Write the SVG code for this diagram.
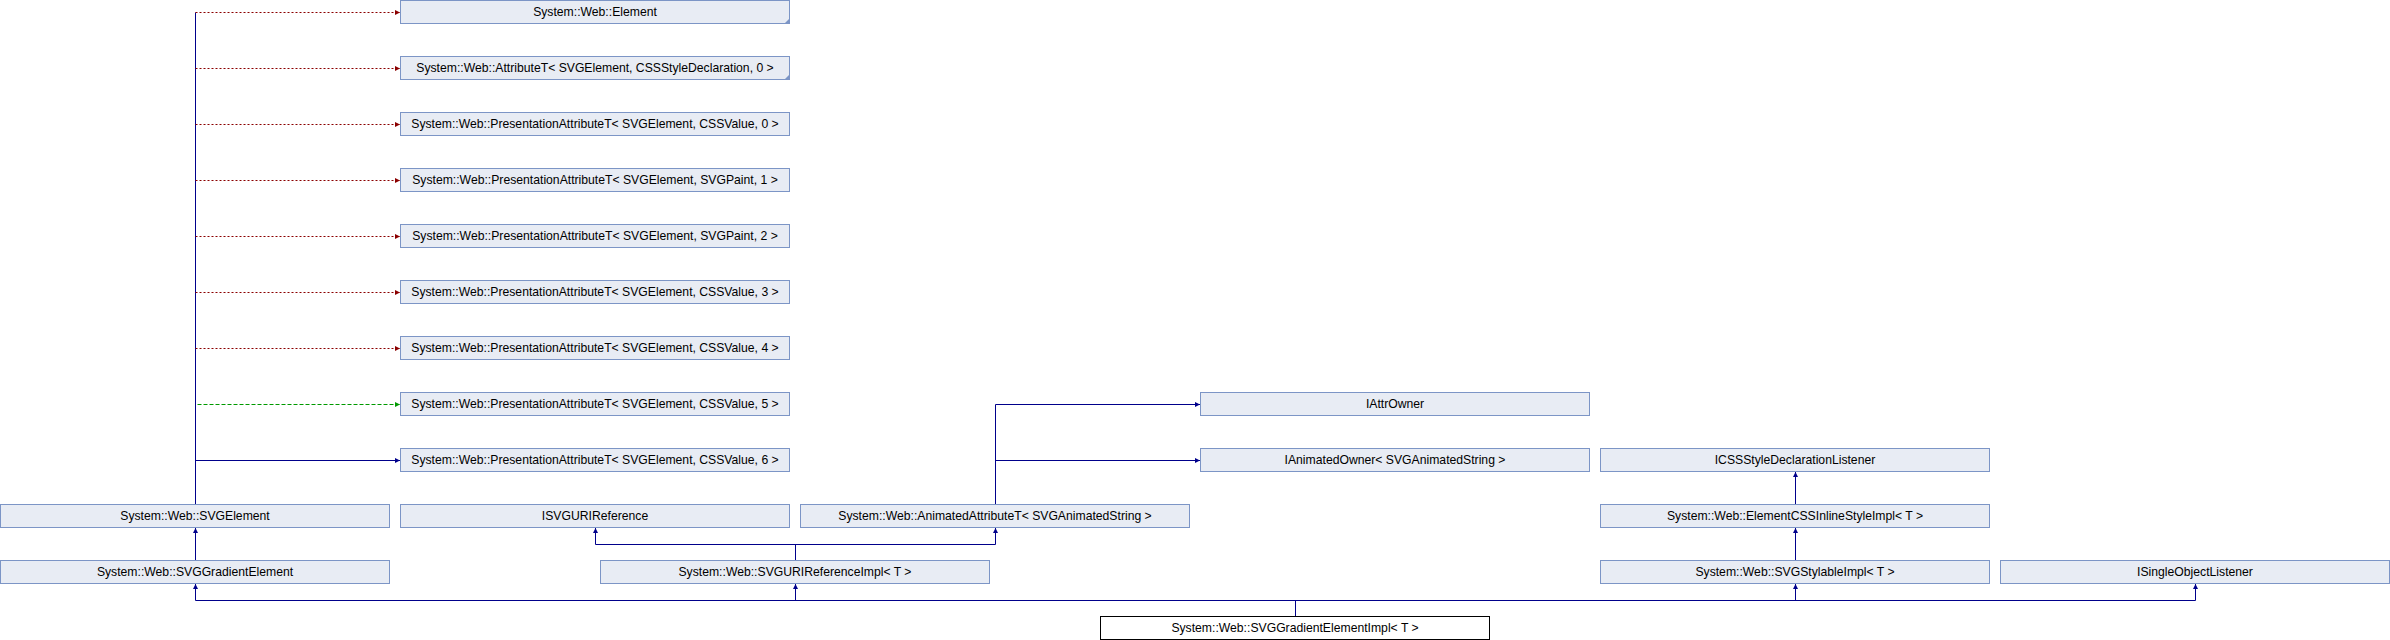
<svg xmlns="http://www.w3.org/2000/svg" width="2390" height="640" viewBox="0 0 2390 640">
<style>
.n rect{fill:#e8ecf4;stroke:#7c95c6;stroke-width:1}
.n polygon{fill:#7c95c6;stroke:none}
.root rect{fill:#ffffff;stroke:#000000;stroke-width:1}
text{font-family:"Liberation Sans",Arial,Helvetica,sans-serif;font-size:12.2px;fill:#000000;text-anchor:middle}
.e{fill:none;stroke-width:1}
.pub{stroke:#00008b}
.pri{stroke:#8b0000;stroke-dasharray:2,2}
.pro{stroke:#009900;stroke-dasharray:4,2}
</style>
<defs>
<marker id="ab" markerUnits="userSpaceOnUse" markerWidth="6" markerHeight="6" refX="5" refY="2.5" orient="auto"><path d="M0,0 L5,2.5 L0,5 z" fill="#00008b"/></marker>
<marker id="ar" markerUnits="userSpaceOnUse" markerWidth="6" markerHeight="6" refX="5" refY="2.5" orient="auto"><path d="M0,0 L5,2.5 L0,5 z" fill="#8b0000"/></marker>
<marker id="ag" markerUnits="userSpaceOnUse" markerWidth="6" markerHeight="6" refX="5" refY="2.5" orient="auto"><path d="M0,0 L5,2.5 L0,5 z" fill="#009900"/></marker>
</defs>
<g id="edges">
<path class="e pub" d="M195.5,504.5 V12.5"/>
<path class="e pri" d="M195.5,12.5 H400" marker-end="url(#ar)"/>
<path class="e pri" d="M195.5,68.5 H400" marker-end="url(#ar)"/>
<path class="e pri" d="M195.5,124.5 H400" marker-end="url(#ar)"/>
<path class="e pri" d="M195.5,180.5 H400" marker-end="url(#ar)"/>
<path class="e pri" d="M195.5,236.5 H400" marker-end="url(#ar)"/>
<path class="e pri" d="M195.5,292.5 H400" marker-end="url(#ar)"/>
<path class="e pri" d="M195.5,348.5 H400" marker-end="url(#ar)"/>
<path class="e pro" d="M197.5,404.5 H400" marker-end="url(#ag)"/>
<path class="e pub" d="M195.5,460.5 H400" marker-end="url(#ab)"/>
<path class="e pub" d="M195.5,560.5 V528" marker-end="url(#ab)"/>
<path class="e pub" d="M1295.5,616.5 V600.5 M195.5,600.5 H2195.5"/>
<path class="e pub" d="M195.5,600.5 V584" marker-end="url(#ab)"/>
<path class="e pub" d="M795.5,600.5 V584" marker-end="url(#ab)"/>
<path class="e pub" d="M1795.5,600.5 V584" marker-end="url(#ab)"/>
<path class="e pub" d="M2195.5,600.5 V584" marker-end="url(#ab)"/>
<path class="e pub" d="M795.5,560.5 V544.5 M595.5,544.5 H995.5"/>
<path class="e pub" d="M595.5,544.5 V528" marker-end="url(#ab)"/>
<path class="e pub" d="M995.5,544.5 V528" marker-end="url(#ab)"/>
<path class="e pub" d="M995.5,504.5 V404.5 H1200" marker-end="url(#ab)"/>
<path class="e pub" d="M995.5,460.5 H1200" marker-end="url(#ab)"/>
<path class="e pub" d="M1795.5,560.5 V528" marker-end="url(#ab)"/>
<path class="e pub" d="M1795.5,504.5 V472" marker-end="url(#ab)"/>
</g>
<g id="n_element" class="n"><rect x="400.5" y="0.5" width="389" height="23"/><polygon points="789.5,18.5 789.5,23.5 784.5,23.5"/><text x="595" y="16">System::Web::Element</text></g>
<g id="n_attributeT" class="n"><rect x="400.5" y="56.5" width="389" height="23"/><polygon points="789.5,74.5 789.5,79.5 784.5,79.5"/><text x="595" y="72">System::Web::AttributeT&lt; SVGElement, CSSStyleDeclaration, 0 &gt;</text></g>
<g id="n_pres0" class="n"><rect x="400.5" y="112.5" width="389" height="23"/><text x="595" y="128">System::Web::PresentationAttributeT&lt; SVGElement, CSSValue, 0 &gt;</text></g>
<g id="n_pres1" class="n"><rect x="400.5" y="168.5" width="389" height="23"/><text x="595" y="184">System::Web::PresentationAttributeT&lt; SVGElement, SVGPaint, 1 &gt;</text></g>
<g id="n_pres2" class="n"><rect x="400.5" y="224.5" width="389" height="23"/><text x="595" y="240">System::Web::PresentationAttributeT&lt; SVGElement, SVGPaint, 2 &gt;</text></g>
<g id="n_pres3" class="n"><rect x="400.5" y="280.5" width="389" height="23"/><text x="595" y="296">System::Web::PresentationAttributeT&lt; SVGElement, CSSValue, 3 &gt;</text></g>
<g id="n_pres4" class="n"><rect x="400.5" y="336.5" width="389" height="23"/><text x="595" y="352">System::Web::PresentationAttributeT&lt; SVGElement, CSSValue, 4 &gt;</text></g>
<g id="n_pres5" class="n"><rect x="400.5" y="392.5" width="389" height="23"/><text x="595" y="408">System::Web::PresentationAttributeT&lt; SVGElement, CSSValue, 5 &gt;</text></g>
<g id="n_pres6" class="n"><rect x="400.5" y="448.5" width="389" height="23"/><text x="595" y="464">System::Web::PresentationAttributeT&lt; SVGElement, CSSValue, 6 &gt;</text></g>
<g id="n_svgelement" class="n"><rect x="0.5" y="504.5" width="389" height="23"/><text x="195" y="520">System::Web::SVGElement</text></g>
<g id="n_isvguriref" class="n"><rect x="400.5" y="504.5" width="389" height="23"/><text x="595" y="520">ISVGURIReference</text></g>
<g id="n_animattr" class="n"><rect x="800.5" y="504.5" width="389" height="23"/><text x="995" y="520">System::Web::AnimatedAttributeT&lt; SVGAnimatedString &gt;</text></g>
<g id="n_iattrowner" class="n"><rect x="1200.5" y="392.5" width="389" height="23"/><text x="1395" y="408">IAttrOwner</text></g>
<g id="n_ianimowner" class="n"><rect x="1200.5" y="448.5" width="389" height="23"/><text x="1395" y="464">IAnimatedOwner&lt; SVGAnimatedString &gt;</text></g>
<g id="n_icssstyle" class="n"><rect x="1600.5" y="448.5" width="389" height="23"/><text x="1795" y="464">ICSSStyleDeclarationListener</text></g>
<g id="n_elemcss" class="n"><rect x="1600.5" y="504.5" width="389" height="23"/><text x="1795" y="520">System::Web::ElementCSSInlineStyleImpl&lt; T &gt;</text></g>
<g id="n_svggradient" class="n"><rect x="0.5" y="560.5" width="389" height="23"/><text x="195" y="576">System::Web::SVGGradientElement</text></g>
<g id="n_svguriimpl" class="n"><rect x="600.5" y="560.5" width="389" height="23"/><text x="795" y="576">System::Web::SVGURIReferenceImpl&lt; T &gt;</text></g>
<g id="n_svgstylable" class="n"><rect x="1600.5" y="560.5" width="389" height="23"/><text x="1795" y="576">System::Web::SVGStylableImpl&lt; T &gt;</text></g>
<g id="n_isingle" class="n"><rect x="2000.5" y="560.5" width="389" height="23"/><text x="2195" y="576">ISingleObjectListener</text></g>
<g id="n_impl" class="root"><rect x="1100.5" y="616.5" width="389" height="23"/><text x="1295" y="632">System::Web::SVGGradientElementImpl&lt; T &gt;</text></g>
</svg>
